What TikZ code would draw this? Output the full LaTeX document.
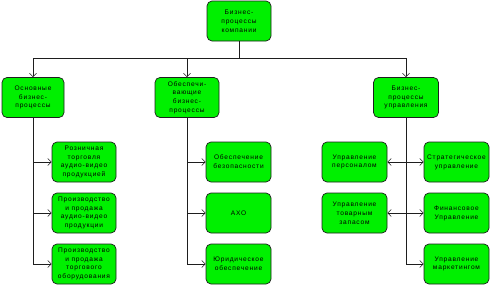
\documentclass[tikz,border=0pt]{standalone}
\usepackage{fontspec}
\setmainfont[LetterSpace=12]{Liberation Sans}
\usetikzlibrary{arrows.meta, positioning}
\definecolor{boxgreen}{RGB}{0, 240, 0}
\definecolor{borderdark}{RGB}{30, 30, 30}

\begin{document}
\begin{tikzpicture}[
    x=1pt, y=-1pt,
    font=\fontsize{6.6}{8.8}\selectfont,
    proc/.style={rectangle, rounded corners=5pt, draw=borderdark, fill=boxgreen,
                 align=center, minimum height=40pt, minimum width=64pt,
                 line width=0.7pt, inner sep=1pt},
    arr/.style={-{Straight Barb[length=3.5pt, width=7pt]}, draw=borderdark, line width=0.6pt},
    darr/.style={arr, {Straight Barb[length=3.5pt, width=7pt]}-{Straight Barb[length=3.5pt, width=7pt]}}
]
\useasboundingbox (0,0) rectangle (492,297);

% =========== top level ===========
\node[proc] (comp) at (239,21)   {Бизнес-\\процессы\\компании};

\node[proc, minimum width=62pt] (osn)  at (33,97.5)  {Основные\\бизнес-\\процессы};
\node[proc]                     (obes) at (187,97.5) {Обеспечи-\\вающие\\бизнес-\\процессы};
\node[proc, minimum width=65pt] (upr)  at (406,97.5) {Бизнес-\\процессы\\управления};

\coordinate (bus) at (239,58);
\draw[arr] (comp.south) -- (bus) -| (osn.north);
\draw[arr] (bus) -| (obes.north);
\draw[arr] (bus) -| (upr.north);

% =========== main processes ===========
\node[proc] (rozn)  at (84,162) {Розничная\\торговля\\аудио-видео\\продукцией};
\node[proc] (proav) at (84,213) {Производство\\и продажа\\аудио-видео\\продукции};
\node[proc] (proto) at (84,264) {Производство\\и продажа\\торгового\\оборудования};

\draw[arr] (osn.south) |- (rozn.west);
\draw[arr] (osn.south) |- (proav.west);
\draw[arr] (osn.south) |- (proto.west);

% =========== supporting processes ===========
\node[proc, minimum width=65pt] (bez) at (238.5,162) {Обеспечение\\безопасности};
\node[proc, minimum width=65pt] (aho) at (238.5,213) {АХО};
\node[proc, minimum width=65pt] (yur) at (238.5,264) {Юридическое\\обеспечение};

\draw[arr] (obes.south) |- (bez.west);
\draw[arr] (obes.south) |- (aho.west);
\draw[arr] (obes.south) |- (yur.west);

% =========== management processes ===========
\node[proc, minimum width=65pt] (pers)  at (354.5,162) {Управление\\персоналом};
\node[proc, minimum width=65pt] (tovar) at (354.5,213) {Управление\\товарным\\запасом};
\node[proc, minimum width=65pt] (strat) at (456.5,162) {Стратегическое\\управление};
\node[proc, minimum width=65pt] (fin)   at (456.5,213) {Финансовое\\Управление};
\node[proc, minimum width=65pt] (mark)  at (456.5,264) {Управление\\маркетингом};

\draw (upr.south) -- (upr.south |- mark.west);
\draw[darr] (pers.east)  -- (strat.west);
\draw[darr] (tovar.east) -- (fin.west);
\draw[arr] (upr.south) |- (mark.west);

\end{tikzpicture}
\end{document}
